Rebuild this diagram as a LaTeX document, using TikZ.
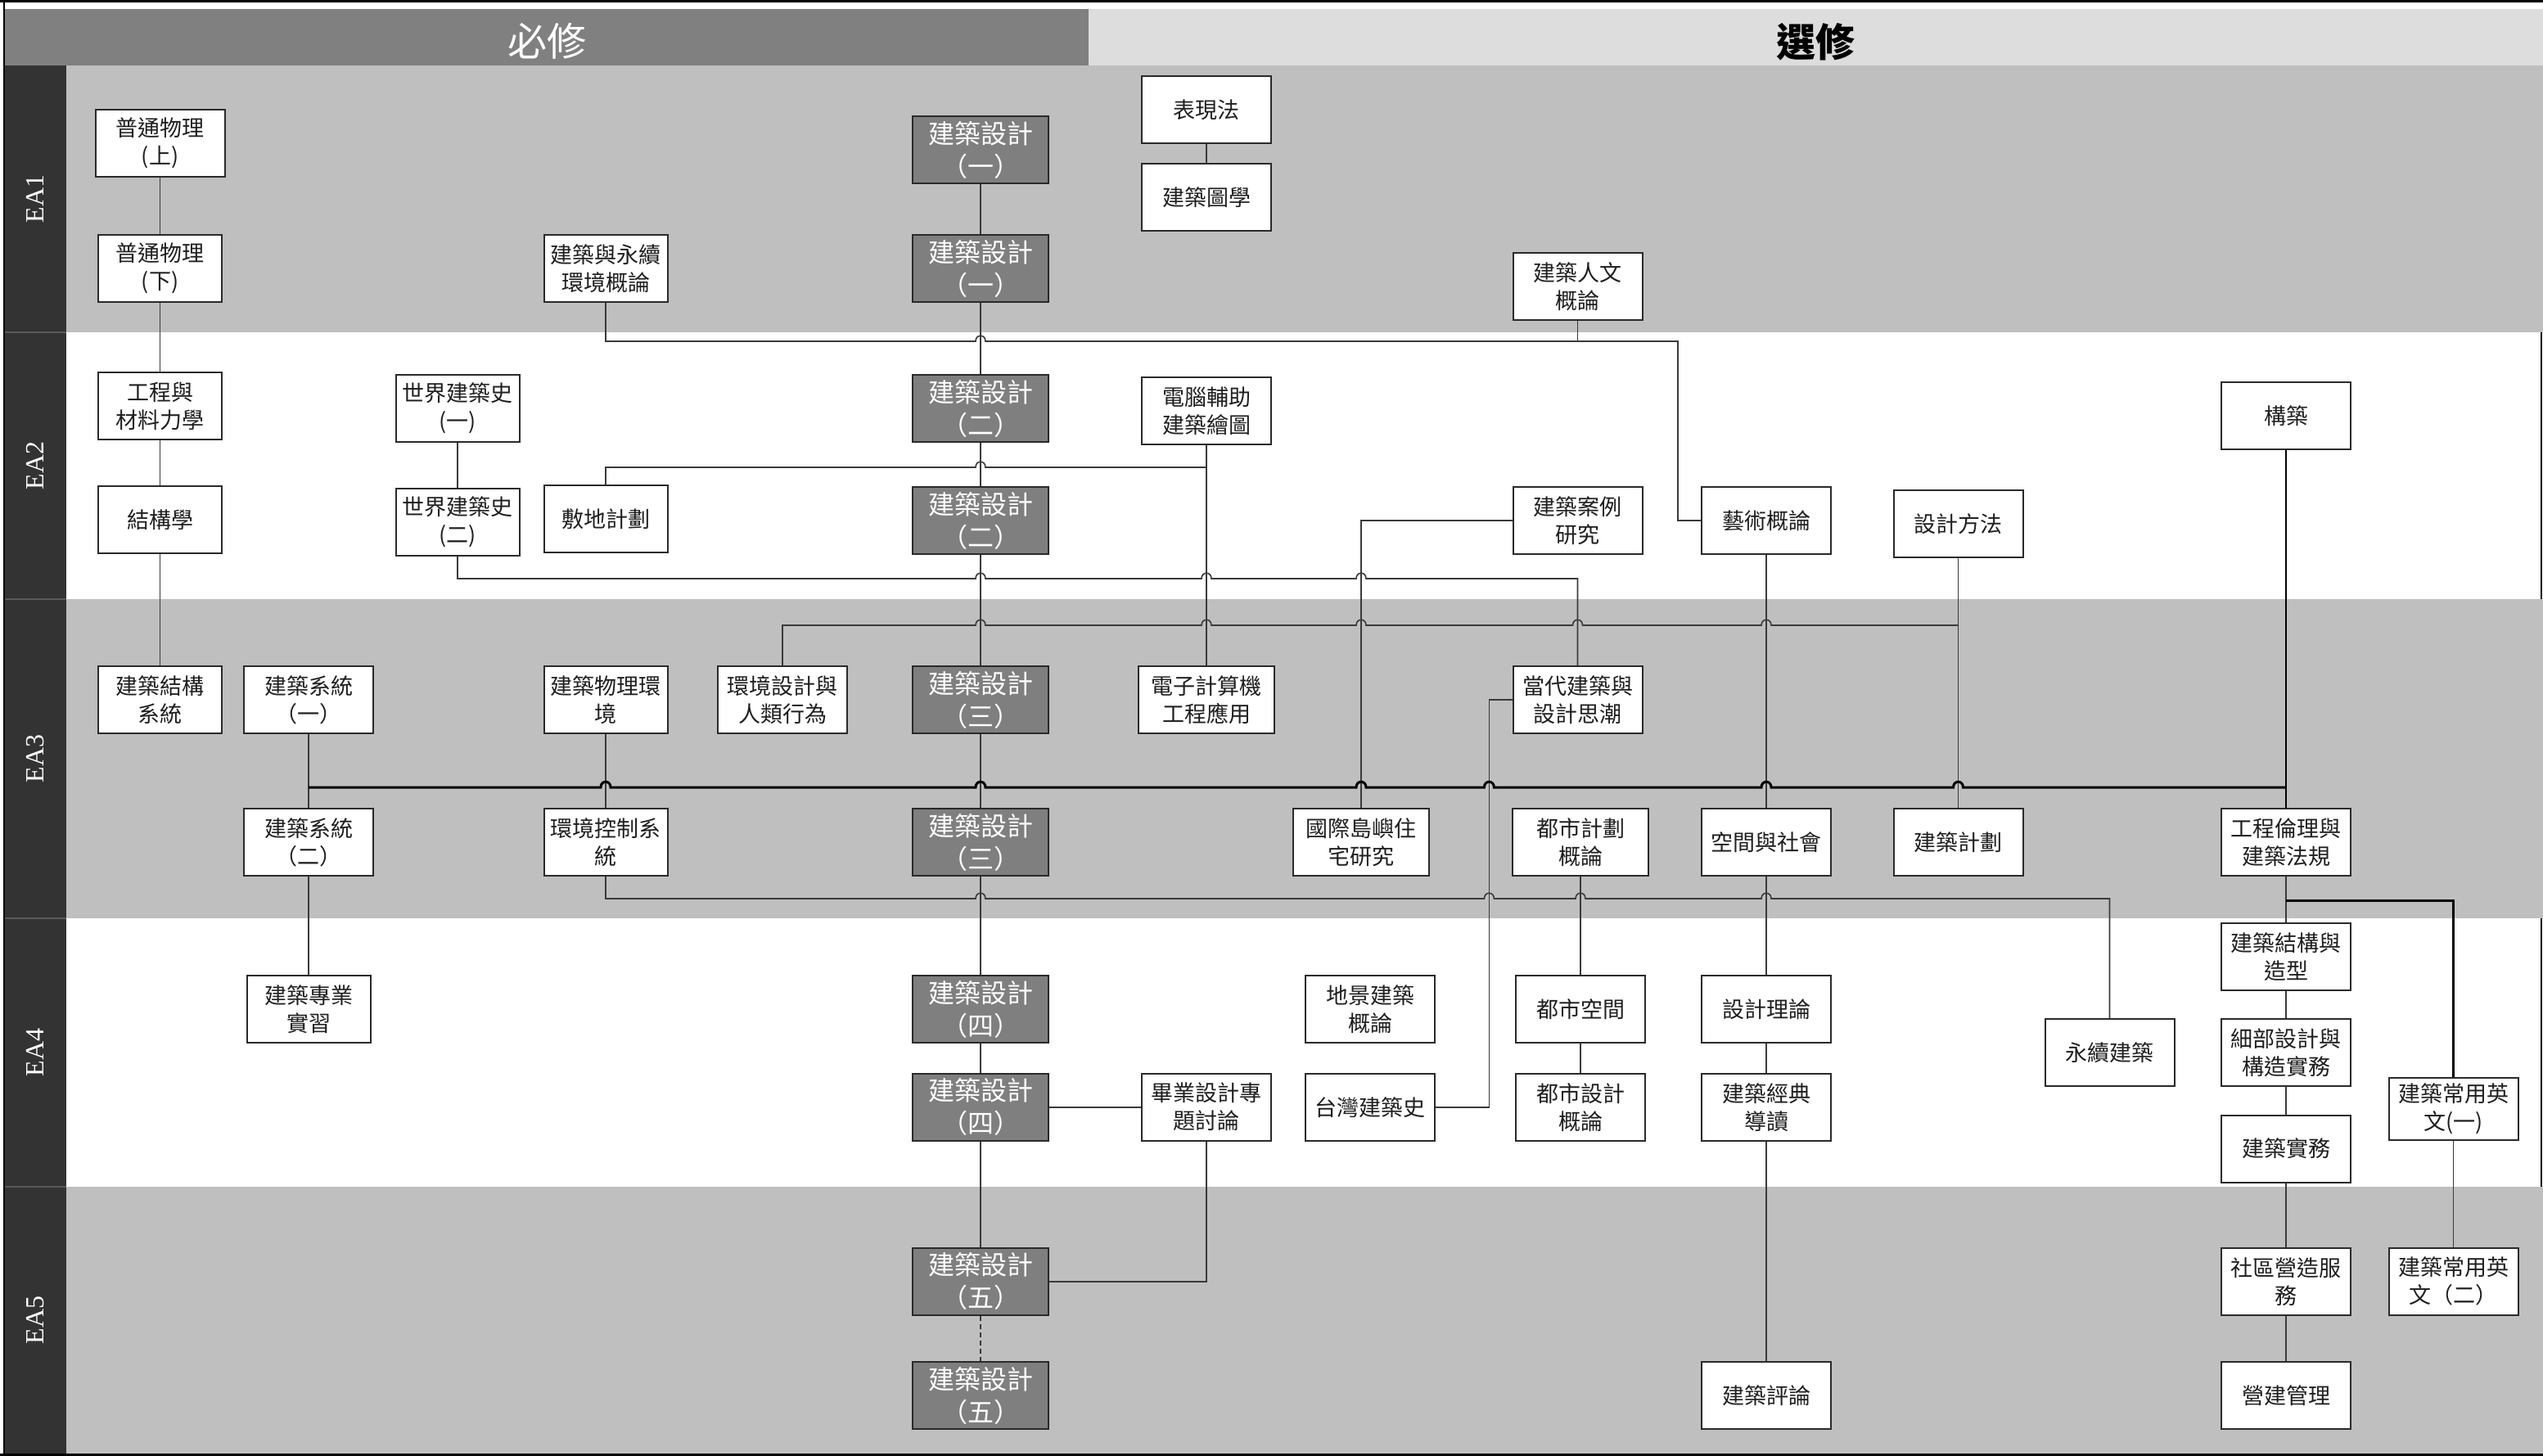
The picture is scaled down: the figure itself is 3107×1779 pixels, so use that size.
\documentclass[tikz,border=0pt]{standalone}
\usepackage{fontspec}
\newfontfamily\cjk{Noto Sans CJK TC}
\newfontfamily\eafont{Liberation Serif}
\definecolor{bandgray}{HTML}{BFBFBF}
\definecolor{hdark}{HTML}{808080}
\definecolor{hlight}{HTML}{DDDDDD}
\definecolor{lcol}{HTML}{333333}
\definecolor{dbfill}{HTML}{7F7F7F}
\definecolor{edge}{HTML}{2A2A2A}
\definecolor{wirec}{HTML}{3A3A3A}
\pgfdeclarelayer{bands}
\pgfdeclarelayer{wires}
\pgfsetlayers{bands,wires,main}
\tikzset{
  box/.style={draw=edge, line width=2pt, fill=white, minimum width=158pt, minimum height=82pt,
    inner sep=0pt, align=center, text=black!88, font=\cjk\fontsize{27}{34}\selectfont},
  dbox/.style={box, fill=dbfill, text=white, minimum width=166pt, font=\cjk\fontsize{32}{40}\selectfont},
  w151/.style={minimum width=151pt},
  w166/.style={minimum width=166pt},
  wire/.style={draw=wirec, line width=1.6pt},
  bus/.style={draw=black, line width=3pt},
  hop/.style 2 args={insert path={-- (#1-6,#2) .. controls (#1-6,#2-9) and (#1+6,#2-9) .. (#1+6,#2)}},
  ealabel/.style={rotate=90, text=white, font=\eafont\fontsize{32}{32}\selectfont},
}
\begin{document}
\begin{tikzpicture}[x=1pt,y=-1pt]
\useasboundingbox (0,0) rectangle (3107,1779);
\begin{pgfonlayer}{bands}
\fill[white] (0,0) rectangle (3107,1779);
\fill[hdark] (5,11) rectangle (1330,80);
\fill[hlight] (1330,11) rectangle (3107,80);
\fill[bandgray] (81,80) rectangle (3107,406);
\fill[bandgray] (81,732) rectangle (3107,1122);
\fill[bandgray] (81,1450) rectangle (3107,1777);
\fill[lcol] (5,80) rectangle (81,1777);
\foreach \yy in {406,732,1122,1450} \draw[gray!70!black, line width=1.5pt] (5,\yy) -- (81,\yy);
\draw[black, line width=3pt] (0,1.5) -- (3107,1.5);
\draw[black, line width=3pt] (0,1777.5) -- (3107,1777.5);
\draw[black, line width=2.5pt] (5,0) -- (5,1779);
\draw[black, line width=2pt] (3105,406) -- (3105,732);
\draw[black, line width=2pt] (3105,1122) -- (3105,1450);
\end{pgfonlayer}
\node[font=\cjk\fontsize{48}{48}\selectfont, text=white] (hreq) at (668,50) {必修};
\node[font=\cjk\bfseries\fontsize{48}{48}\selectfont, text=black] (hopt) at (2218,51) {選修};
\node[ealabel] (ea1) at (43,243) {EA1};
\node[ealabel] (ea2) at (43,569) {EA2};
\node[ealabel] (ea3) at (43,927) {EA3};
\node[ealabel] (ea4) at (43,1286) {EA4};
\node[ealabel] (ea5) at (43,1613) {EA5};

% ---------- nodes ----------
\node[box] (pu1) at (195.5,175) {普通物理\\(上)};
\node[box,w151] (pu2) at (195.5,328) {普通物理\\(下)};
\node[box,w151] (gc) at (195.5,496) {工程與\\材料力學};
\node[box,w151] (jg) at (195.5,635) {結構學};
\node[box,w151] (jjg) at (195.5,855) {建築結構\\系統};
\node[box,w151] (sj1) at (559,499) {世界建築史\\(一)};
\node[box,w151] (sj2) at (559,638) {世界建築史\\(二)};
\node[box] (xt1) at (377,855) {建築系統\\（一）};
\node[box] (xt2) at (377,1029) {建築系統\\（二）};
\node[box,w151] (sx) at (377,1233) {建築專業\\實習};
\node[box,w151] (yx) at (740,328) {建築與永續\\環境概論};
\node[box,w151] (fd) at (740,634) {敷地計劃};
\node[box,w151] (wl) at (740,855) {建築物理環\\境};
\node[box,w151] (hk) at (740,1029) {環境控制系\\統};
\node[box] (hj) at (956,855) {環境設計與\\人類行為};
\node[dbox] (d1a) at (1198,183.5) {建築設計\\（一）};
\node[dbox] (d1b) at (1198,328) {建築設計\\（一）};
\node[dbox] (d2a) at (1198,499) {建築設計\\（二）};
\node[dbox] (d2b) at (1198,636) {建築設計\\（二）};
\node[dbox] (d3a) at (1198,855) {建築設計\\（三）};
\node[dbox] (d3b) at (1198,1029) {建築設計\\（三）};
\node[dbox] (d4a) at (1198,1233) {建築設計\\（四）};
\node[dbox] (d4b) at (1198,1352.7) {建築設計\\（四）};
\node[dbox] (d5a) at (1198,1565.7) {建築設計\\（五）};
\node[dbox] (d5b) at (1198,1705.4) {建築設計\\（五）};
\node[box] (bx) at (1474,134) {表現法};
\node[box] (tx) at (1474,241) {建築圖學};
\node[box] (dn) at (1474,502) {電腦輔助\\建築繪圖};
\node[box,w166] (dz) at (1474,855) {電子計算機\\工程應用};
\node[box] (by) at (1474,1352.7) {畢業設計專\\題討論};
\node[box] (rw) at (1927.5,350) {建築人文\\概論};
\node[box] (al) at (1927.5,636) {建築案例\\研究};
\node[box] (dd) at (1927.5,855) {當代建築與\\設計思潮};
\node[box,w166] (gj) at (1663,1029) {國際島嶼住\\宅研究};
\node[box,w166] (ds) at (1931,1029) {都市計劃\\概論};
\node[box] (dk) at (1931,1233) {都市空間};
\node[box] (dsj) at (1931,1352.7) {都市設計\\概論};
\node[box] (dj) at (1674,1233) {地景建築\\概論};
\node[box] (tw) at (1674,1352.7) {台灣建築史};
\node[box] (ys) at (2158,636) {藝術概論};
\node[box] (kj) at (2158,1029) {空間與社會};
\node[box] (sl) at (2158,1233) {設計理論};
\node[box] (jd) at (2158,1352.7) {建築經典\\導讀};
\node[box] (pl) at (2158,1705.4) {建築評論};
\node[box] (ff) at (2392.5,640) {設計方法};
\node[box] (jh) at (2392.5,1029) {建築計劃};
\node[box] (yj) at (2577.5,1286) {永續建築};
\node[box] (gz) at (2793,508) {構築};
\node[box] (gl) at (2793,1029) {工程倫理與\\建築法規};
\node[box] (jz) at (2793,1169) {建築結構與\\造型};
\node[box] (xb) at (2793,1286) {細部設計與\\構造實務};
\node[box] (sw) at (2793,1403.5) {建築實務};
\node[box] (sq) at (2793,1565.7) {社區營造服\\務};
\node[box] (yg) at (2793,1705.4) {營建管理};
\node[box, minimum height=76pt] (en1) at (2997.5,1355) {建築常用英\\文(一)};
\node[box] (en2) at (2997.5,1565.7) {建築常用英\\文（二）};

% ---------- connectors ----------
\begin{pgfonlayer}{wires}
\draw[wire] (pu1.south) -- (pu2.north);
\draw[wire] (pu2.south) -- (gc.north);
\draw[wire] (gc.south) -- (jg.north);
\draw[wire] (jg.south) -- (jjg.north);
\draw[wire] (sj1.south) -- (sj2.north);
\draw[wire] (xt1.south) -- (xt2.north);
\draw[wire] (xt2.south) -- (sx.north);
\draw[wire] (wl.south) -- (hk.north);
\draw[wire] (d1a.south) -- (d1b.north);
\draw[wire] (d1b.south) -- (d2a.north);
\draw[wire] (d2a.south) -- (d2b.north);
\draw[wire] (d2b.south) -- (d3a.north);
\draw[wire] (d3a.south) -- (d3b.north);
\draw[wire] (d3b.south) -- (d4a.north);
\draw[wire] (d4a.south) -- (d4b.north);
\draw[wire] (d4b.south) -- (d5a.north);
\draw[wire, dash pattern=on 6pt off 4pt] (d5a.south) -- (d5b.north);
\draw[wire] (bx.south) -- (tx.north);
\draw[wire] (dn.south) -- (dz.north);
\draw[wire] (ds.south) -- (dk.north);
\draw[wire] (dk.south) -- (dsj.north);
\draw[wire] (ys.south) -- (kj.north);
\draw[wire] (kj.south) -- (sl.north);
\draw[wire] (sl.south) -- (jd.north);
\draw[wire] (jd.south) -- (pl.north);
\draw[wire] (ff.south) -- (jh.north);
\draw[wire] (gl.south) -- (jz.north);
\draw[wire] (jz.south) -- (xb.north);
\draw[wire] (xb.south) -- (sw.north);
\draw[wire] (sw.south) -- (sq.north);
\draw[wire] (sq.south) -- (yg.north);
\draw[wire] (en1.south) -- (en2.north);
\draw[wire] (yx.south) -- (740,417) [hop={1198}{417}] -- (2050,417) -- (2050,636) -- (ys.west);
\draw[wire] (rw.south) -- (1927.5,417);
\draw[wire] (fd.north) -- (740,571) [hop={1198}{571}] -- (1474,571);
\draw[wire] (sj2.south) -- (559,707) [hop={1198}{707}] [hop={1474}{707}] [hop={1663}{707}] -- (1927.5,707) -- (dd.north);
\draw[wire] (hj.north) -- (956,764) [hop={1198}{764}] [hop={1474}{764}] [hop={1663}{764}] [hop={1927.5}{764}] [hop={2158}{764}] -- (2392.5,764);
\draw[wire] (al.west) -- (1663,636) -- (gj.north);
\draw[wire] (dd.west) -- (1819.4,855) -- (1819.4,1352.7) -- (tw.east);
\draw[wire] (hk.south) -- (740,1098) [hop={1198}{1098}] [hop={1819.4}{1098}] [hop={1931}{1098}] [hop={2158}{1098}] -- (2577.5,1098) -- (yj.north);
\draw[wire] (d4b.east) -- (by.west);
\draw[wire] (by.south) -- (1474,1565.7) -- (d5a.east);
\draw[bus] (377,962) [hop={740}{962}] [hop={1198}{962}] [hop={1663}{962}] [hop={1819.4}{962}] [hop={2158}{962}] [hop={2392.5}{962}] -- (2793,962);
\draw[black, line width=2.5pt] (gz.south) -- (gl.north);
\draw[bus] (2793,1100) -- (2997.5,1100) -- (en1.north);
\end{pgfonlayer}
\end{tikzpicture}
\end{document}
